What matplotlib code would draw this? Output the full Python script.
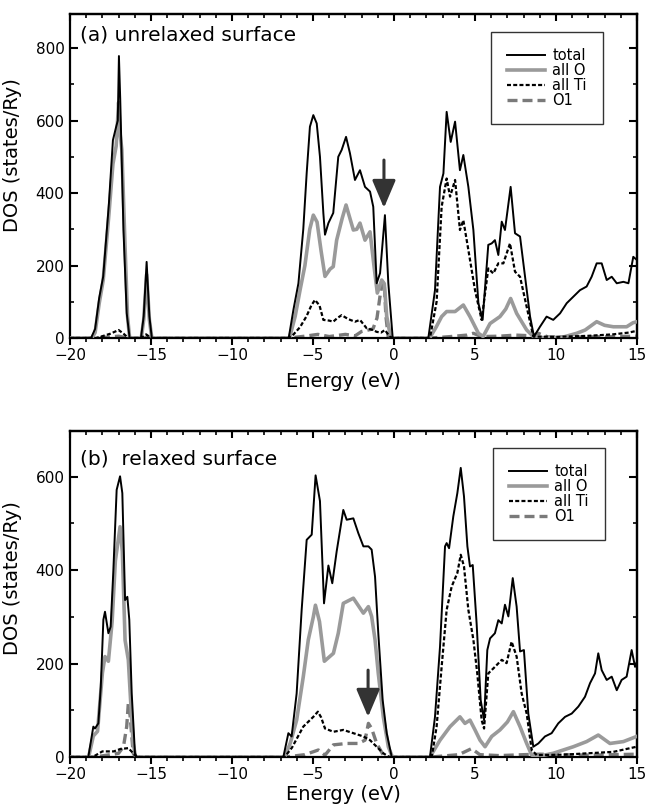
import matplotlib
matplotlib.use("Agg")
import matplotlib.pyplot as plt
from matplotlib.ticker import MultipleLocator
from matplotlib.lines import Line2D

# ---------------- Panel (a): unrelaxed surface ----------------
a_total_E = [-20, -18.7, -18.45, -18.2, -17.95, -17.6, -17.35, -17.15, -17.05, -16.98, -16.9, -16.7, -16.5, -16.32,
             -15.62, -15.45, -15.27, -15.1, -14.95,
             -6.5, -6.2, -5.9, -5.6, -5.39, -5.19, -4.98, -4.77, -4.57, -4.36, -4.26, -4.05, -3.75, -3.44, -3.23,
             -2.96, -2.72, -2.41, -2.1, -1.79, -1.48, -1.28, -1.07, -0.86, -0.56, -0.35, -0.08,
             2.12, 2.53, 2.84, 3.05, 3.25, 3.5, 3.77, 4.07, 4.28, 4.59, 4.9, 5.21, 5.47, 5.82, 6.03, 6.23, 6.44,
             6.65, 6.85, 7.2, 7.47, 7.78, 8.09, 8.4, 8.64,
             9.01, 9.42, 9.83, 10.25, 10.66, 11.07, 11.48, 11.89, 12.2, 12.51, 12.82, 13.13, 13.44, 13.75, 14.16,
             14.47, 14.77, 15.0]
a_total = [0, 0, 25, 110, 170, 370, 546, 583, 600, 778, 660, 298, 69, 0,
           0, 60, 210, 60, 0,
           0, 80, 151, 300, 455, 583, 615, 592, 500, 344, 285, 317, 345, 500, 519,
           555, 510, 436, 463, 417, 404, 362, 151, 179, 339, 151, 0,
           0, 132, 417, 454, 624, 541, 597, 463, 505, 417, 298, 96, 50, 257, 261, 270, 229,
           321, 298, 417, 289, 280, 169, 59, 4,
           31, 59, 50, 68, 96, 114, 132, 142, 169, 206, 206, 160, 169, 151, 155,
           151, 224, 215]

a_O_E = [-20, -18.65, -18.45, -18.2, -17.95, -17.6, -17.35, -17.15, -17.0, -16.9, -16.8, -16.6, -16.45, -16.32,
         -15.6, -15.45, -15.27, -15.1, -14.95,
         -6.45, -6.1, -5.8, -5.5, -5.2, -4.98, -4.75, -4.5, -4.26, -3.95, -3.75, -3.54, -3.2, -2.96, -2.72,
         -2.51, -2.3, -2.1, -1.79, -1.48, -1.23, -1.03, -0.76, -0.6, -0.45, -0.2,
         2.2, 2.6, 2.94, 3.25, 3.77, 4.28, 4.69, 5.21, 5.5, 5.93, 6.54, 6.9, 7.2, 7.57, 8.19, 8.6, 9.4,
         10.4, 11.28, 11.8, 12.51, 13.0, 13.54, 14.36, 14.75, 15.0]
a_O = [0, 0, 15, 95, 160, 340, 480, 530, 650, 560, 520, 250, 60, 0,
       0, 50, 175, 50, 0,
       0, 60, 132, 200, 300, 339, 320, 240, 170, 190, 197, 270, 330, 367, 330,
       298, 300, 317, 270, 293, 197, 124, 160, 150, 60, 0,
       0, 30, 59, 73, 73, 91, 59, 13, 4, 40, 59, 80, 109, 68, 22, 4, 0,
       2, 13, 22, 45, 35, 31, 31, 42, 45]

a_Ti_E = [-20, -18.4, -18.0, -17.5, -17.0, -16.7, -16.4, -15.6, -15.3, -15.0,
          -6.5, -6.2, -5.8, -5.4, -5.1, -4.88, -4.6, -4.36, -4.0, -3.75, -3.5, -3.23, -2.82, -2.41, -2.1,
          -1.69, -1.3, -1.07, -0.8, -0.56, -0.25, 0.0,
          2.22, 2.63, 2.94, 3.25, 3.46, 3.77, 4.07, 4.28, 4.59, 5.0, 5.41, 5.82, 6.13, 6.44, 6.75, 7.16, 7.47,
          7.78, 8.19, 8.6,
          10.0, 12.0, 13.5, 14.5, 15.0]
a_Ti = [0, 0, 5, 12, 22, 12, 0, 0, 10, 0,
        0, 10, 30, 60, 90, 105, 90, 50, 48, 45, 55, 63, 52, 45, 50,
        27, 22, 17, 15, 22, 3, 0,
        0, 100, 362, 440, 390, 436, 298, 325, 243, 132, 50, 192, 178, 206, 206, 261, 183,
        169, 86, 4,
        3, 6, 10, 15, 20]

a_O1_E = [-20, -18.4, -17.0, -16.4, -15.5, -15.2, -14.9,
          -6.5, -5.5, -4.7, -4.0, -3.0, -2.4, -2.0, -1.6, -1.3, -1.05, -0.85, -0.72, -0.6, -0.5, -0.35,
          2.3, 3.5, 4.5, 4.9, 5.4, 6.5, 7.5, 8.5, 8.9, 9.5, 12.0, 15.0]
a_O1 = [0, 0, 5, 0, 0, 3, 0,
        0, 5, 10, 4, 10, 6, 18, 22, 25, 55, 120, 155, 148, 60, 0,
        0, 4, 8, 13, 4, 5, 8, 6, 13, 3, 3, 5]

# ---------------- Panel (b): relaxed surface ----------------
b_total_E = [-20, -18.87, -18.56, -18.46, -18.25, -18.1, -17.94, -17.84, -17.63, -17.49, -17.33, -17.12, -16.91,
             -16.77, -16.6, -16.46, -16.34, -16.19, -15.99, -15.88,
             -6.83, -6.52, -6.32, -6.01, -5.7, -5.39, -5.08, -4.84, -4.57, -4.32, -4.05, -3.81, -3.54, -3.13,
             -2.92, -2.51, -2.2, -1.89, -1.58, -1.38, -1.17, -0.97, -0.7, -0.45, -0.14,
             2.22, 2.53, 2.84, 3.15, 3.25, 3.4, 3.66, 3.91, 4.12, 4.32, 4.53, 4.69, 4.86, 5.1, 5.35, 5.56, 5.76,
             5.93, 6.23, 6.44, 6.65, 6.85, 7.06, 7.33, 7.57, 7.78, 8.02, 8.29, 8.6,
             8.91, 9.32, 9.73, 10.14, 10.56, 10.97, 11.38, 11.79, 12.1, 12.41, 12.61, 12.82, 13.13, 13.44, 13.75,
             14.05, 14.36, 14.67, 14.88, 15.0]
b_total = [0, 0, 65, 61, 72, 150, 294, 311, 265, 279, 394, 572, 601,
           565, 336, 343, 294, 136, 8, 0,
           0, 51, 44, 136, 315, 465, 476, 603, 548, 329, 410, 372, 440, 529,
           508, 511, 479, 451, 451, 444, 386, 265, 122, 51, 0,
           0, 86, 236, 451, 458, 447, 515, 565, 619, 558, 451, 408, 411, 286, 122, 79, 229,
           254, 265, 293, 286, 326, 301, 383, 322, 226, 229, 93, 22,
           29, 44, 51, 72, 86, 93, 108, 129, 158, 179, 222, 186, 165, 172, 143,
           165, 172, 229, 193, 205]

b_O_E = [-20, -18.85, -18.56, -18.3, -18.0, -17.84, -17.63, -17.4, -17.2, -16.91, -16.77, -16.6, -16.4, -16.26,
         -16.1, -15.95,
         -6.75, -6.4, -6.01, -5.6, -5.29, -4.98, -4.85, -4.6, -4.3, -3.74, -3.44, -3.13, -2.51, -1.89, -1.58,
         -1.38, -1.17, -0.97, -0.66, -0.35, -0.1,
         2.22, 2.84, 3.46, 4.07, 4.38, 4.69, 5.0, 5.31, 5.62, 6.03, 6.54, 7.0, 7.37, 7.78, 8.19, 8.5, 9.0,
         9.83, 11.07, 11.89, 12.61, 13.33, 14.16, 14.98]
b_O = [0, 0, 45, 55, 180, 215, 205, 290, 420, 493, 440, 250, 208, 122,
       29, 0,
       0, 30, 79, 172, 251, 300, 325, 290, 205, 222, 265, 329, 340, 308, 322,
       301, 251, 179, 86, 22, 0,
       0, 36, 65, 86, 72, 79, 58, 36, 22, 44, 58, 75, 97, 65, 29, 4, 2,
       8, 22, 33, 47, 29, 33, 44]

b_Ti_E = [-20, -18.6, -18.0, -17.3, -16.9, -16.4, -16.15, -15.9,
          -6.75, -6.3, -5.6, -4.98, -4.7, -4.5, -4.26, -3.74, -3.13, -2.51, -1.89, -1.48, -1.07, -0.66, -0.3,
          2.33, 2.63, 2.94, 3.25, 3.56, 3.91, 4.12, 4.32, 4.59, 4.9, 5.14, 5.41, 5.56, 5.82, 6.23, 6.65, 6.95,
          7.26, 7.57, 7.88, 8.19, 8.5, 8.81,
          10.5, 12.0, 13.54, 14.98]
b_Ti = [0, 0, 12, 12, 17, 19, 10, 0,
        0, 20, 65, 86, 97, 85, 61, 54, 58, 51, 44, 36, 22, 8, 0,
        0, 65, 193, 315, 365, 394, 433, 408, 315, 251, 179, 79, 61, 179, 193, 208, 201,
        247, 215, 136, 93, 15, 4,
        5, 8, 11, 22]

b_O1_E = [-20, -18.5, -17.5, -17.0, -16.7, -16.5, -16.4, -16.3, -16.1, -15.95,
          -6.7, -5.5, -4.67, -4.26, -3.74, -2.92, -2.2, -1.79, -1.58, -1.38, -1.07, -0.66, -0.4,
          2.3, 4.0, 4.79, 5.3, 6.5, 8.0, 9.0, 12.0, 15.0]
b_O1 = [0, 0, 5, 8, 22, 65, 115, 93, 8, 0,
        0, 5, 15, 4, 26, 29, 29, 36, 72, 61, 29, 4, 0,
        0, 5, 18, 5, 3, 5, 6, 4, 6]

series_labels = ["total", "all O", "all Ti", "O1"]
panel_titles = ["(a) unrelaxed surface", "(b)  relaxed surface"]
x_label = "Energy (eV)"
y_label = "DOS (states/Ry)"

# ---------------- styling ----------------
C_TOTAL = "black"
C_O = "#9a9a9a"
C_TI = "black"
C_O1 = "#7a7a7a"

plt.rcParams["font.family"] = ["DejaVu Sans"]

W, H = 646, 809
fig = plt.figure(figsize=(W / 100, H / 100), dpi=100)
ax_a = fig.add_axes([70 / W, 1 - 338 / H, 567 / W, 324 / H])
ax_b = fig.add_axes([70 / W, 1 - 757 / H, 567 / W, 326 / H])


def draw(ax, tot_E, tot, o_E, o, ti_E, ti, o1_E, o1, ymax, title, title_y, ylab_y,
         leg_anchor, arrow_x, arrow_tip, arrow_tail, xlab_y):
    ax.plot(o1_E, o1, color=C_O1, lw=2.4, dashes=(3, 1.5), zorder=2)
    ax.plot(o_E, o, color=C_O, lw=2.6, zorder=3)
    ax.plot(ti_E, ti, color=C_TI, lw=1.6, dashes=(1.8, 1.0), zorder=4)
    ax.plot(tot_E, tot, color=C_TOTAL, lw=1.4, zorder=5)

    ax.set_xlim(-20, 15)
    ax.set_ylim(0, ymax)
    ax.xaxis.set_major_locator(MultipleLocator(5))
    ax.xaxis.set_minor_locator(MultipleLocator(1))
    ax.yaxis.set_major_locator(MultipleLocator(200))
    ax.yaxis.set_minor_locator(MultipleLocator(100))
    ax.tick_params(axis="x", which="major", direction="out", length=5, width=1.5,
                   labelsize=11, pad=2, top=False)
    ax.tick_params(axis="x", which="minor", direction="out", length=3, width=1.2, top=False)
    ax.tick_params(axis="y", which="major", direction="in", length=6, width=1.5,
                   labelsize=11, pad=4, right=False)
    ax.tick_params(axis="y", which="minor", direction="in", length=3, width=1.2, right=False)

    top = ax.secondary_xaxis("top")
    top.xaxis.set_major_locator(MultipleLocator(5))
    top.xaxis.set_minor_locator(MultipleLocator(1))
    top.tick_params(which="major", direction="in", length=5, width=1.5, labeltop=False)
    top.tick_params(which="minor", direction="in", length=3, width=1.2)
    top.spines["top"].set_linewidth(1.6)

    right = ax.secondary_yaxis("right")
    right.yaxis.set_major_locator(MultipleLocator(200))
    right.yaxis.set_minor_locator(MultipleLocator(100))
    right.tick_params(which="major", direction="in", length=6, width=1.5, labelright=False)
    right.tick_params(which="minor", direction="in", length=3, width=1.2)
    right.spines["right"].set_linewidth(1.6)

    for s in ax.spines.values():
        s.set_linewidth(1.6)

    ax.set_xlabel(x_label, fontsize=14)
    ax.xaxis.set_label_coords(0.483, xlab_y)
    ax.set_ylabel(y_label, fontsize=14)
    ax.yaxis.set_label_coords(-0.085, ylab_y)

    ax.text(0.018, title_y, title, transform=ax.transAxes, fontsize=14.5,
            ha="left", va="top")

    handles = [Line2D([], [], color=C_TOTAL, lw=1.4),
               Line2D([], [], color=C_O, lw=2.6),
               Line2D([], [], color=C_TI, lw=1.6, dashes=(1.8, 1.0)),
               Line2D([], [], color=C_O1, lw=2.4, dashes=(3, 1.5))]
    leg = ax.legend(handles, series_labels, loc="upper right", bbox_to_anchor=leg_anchor,
                    borderaxespad=0, fontsize=10.5, frameon=True, fancybox=False,
                    labelspacing=0.0, handlelength=2.6, handletextpad=0.5,
                    borderpad=1.1)
    leg.get_frame().set_edgecolor("black")
    leg.get_frame().set_linewidth(1.0)
    leg.set_zorder(10)

    ax.annotate("", xy=(arrow_x, arrow_tip), xytext=(arrow_x, arrow_tail),
                arrowprops=dict(arrowstyle="-|>,head_length=0.85,head_width=0.36",
                                mutation_scale=20, color="#333333", lw=2.2,
                                shrinkA=0, shrinkB=0), zorder=8)


draw(ax_a, a_total_E, a_total, a_O_E, a_O, a_Ti_E, a_Ti, a_O1_E, a_O1,
     ymax=894, title=panel_titles[0], title_y=0.966, ylab_y=0.565,
     leg_anchor=(0.940, 0.944), arrow_x=-0.62, arrow_tip=359, arrow_tail=491,
     xlab_y=-0.105)
draw(ax_b, b_total_E, b_total, b_O_E, b_O, b_Ti_E, b_Ti, b_O1_E, b_O1,
     ymax=698, title=panel_titles[1], title_y=0.942, ylab_y=0.549,
     leg_anchor=(0.9436, 0.948), arrow_x=-1.6, arrow_tip=86, arrow_tail=186,
     xlab_y=-0.085)

fig.savefig("out.png", dpi=100)
